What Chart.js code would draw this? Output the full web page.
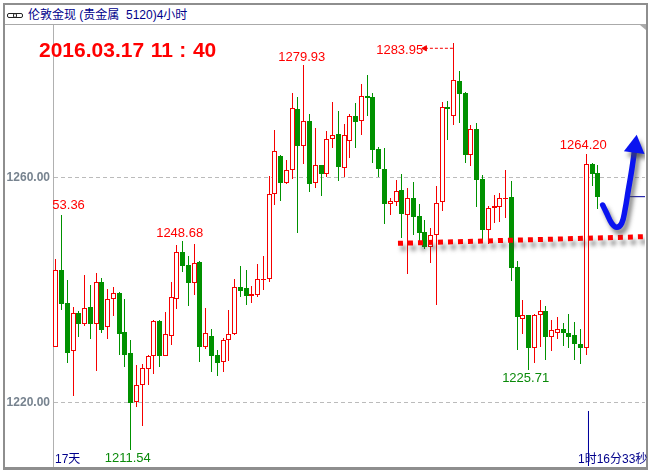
<!DOCTYPE html>
<html>
<head>
<meta charset="utf-8">
<title>伦敦金现 4小时</title>
<script src="https://cdn.jsdelivr.net/npm/chart.js@4/dist/chart.umd.min.js"></script>
<style>
  html, body { margin: 0; padding: 0; background: #fff; }
  #wrap { position: relative; width: 650px; height: 470px; overflow: hidden; font-family: "Liberation Sans", "Noto Sans CJK SC", sans-serif; }
  #frame { position: absolute; left: 3px; top: 3px; width: 641px; height: 462px; border: solid #8e8e8e; border-width: 2px 2px 3px 2px; }
  #rule { position: absolute; left: 5px; top: 24px; width: 641px; height: 1px; background: #aaa; }
  #corner { position: absolute; left: 640px; top: 25px; width: 0; height: 0; border-top: 5px solid #aaa; border-left: 6px solid transparent; }
  #chart { position: absolute; left: 0; top: 0; }
  .link { position: absolute; top: 13px; width: 8px; height: 3px; border: 1px solid #222; border-radius: 2px; }
  .txt { position: absolute; white-space: pre; color: #00008b; font-size: 12px; line-height: 14px; }
  #title { left: 28px; top: 8px; }
  #stamp { left: 39px; top: 38px; color: #f00; font-weight: bold; font-size: 21px; line-height: 24px; word-spacing: 0.7px; }
  #days { left: 55px; top: 452px; }
  #left { left: 578px; top: 452px; }
</style>
</head>
<body>
<div id="wrap">
  <div id="frame"></div>
  <div id="rule"></div>
  <div id="corner"></div>
  <div class="link" style="left:7px"></div>
  <div class="link" style="left:13px"></div>
  <div class="txt" id="title">伦敦金现 (贵金属  5120)4小时</div>
  <canvas id="chart" width="650" height="470"></canvas>
  <div class="txt" id="stamp">2016.03.17 11 : 40</div>
  <div class="txt" id="days">17天</div>
  <div class="txt" id="left">1时16分33秒</div>
</div>
<script>
// 4 hour candles
const opens = [1229.93,1243.56,1237.69,1229.1,1235.91,1234.01,1236.98,1234.01,1241.42,1233.36,1238.34,1239.47,1232.53,1228.8,1220.03,1223.05,1225.9,1228.21,1234.43,1228.33,1231.88,1238.34,1246.7,1244.44,1241.3,1244.98,1229.93,1231.82,1228.44,1227.14,1231.05,1232.12,1240.47,1240.3,
  1238.99,1239.17,1241.78,1241.89,1257.01,1263.76,1259.08,1261.27,1272.12,1265.66,1269.98,1258.96,1262.2,1260.68,1266.78,1267.67,1261.75,1266.43,1270.87,1269.98,1274.43,1274.25,1265.01,1261.45,1255.35,1255.7,1257.72,1253.39,1256.29,1253.09,1250.25,1247.7,1249.72,
  1255.59,1272.48,1270.99,1277.16,1275.02,1264.05,1268.62,1259.68,1250.72,1254.52,1254.81,1256.23,1256.53,1244.09,1234.9,1235.56,1229.74,1235.5,1236.21,1231.7,1232.3,1233.01,1232.36,1232,1230.4,1229.69,1262.35,1260.75];
const highs = [1245.45,1253.36,1241.78,1236.92,1236.27,1242.67,1240.89,1242.96,1242.07,1240.18,1240.47,1239.64,1238.4,1231.11,1226.67,1226.84,1228.44,1234.67,1234.61,1236.09,1241.42,1248,1248.68,1246.04,1248.18,1245.16,1236.8,1233.01,1229.33,1231.41,1236.44,1241.96,1244.27,1243.56,
  1240.71,1244.62,1246.04,1260.26,1268.44,1263.94,1263.11,1275.02,1274.25,1279.93,1271.29,1268.74,1262.3,1268.21,1273.42,1271.82,1269.51,1271.29,1273.18,1276.56,1278.22,1274.96,1265.36,1265.18,1256.29,1259.55,1260.56,1258.13,1259.14,1255.29,1252.44,1250.96,1258.55,
  1273.42,1273.6,1283.95,1278.93,1275.25,1269.33,1269.64,1260.44,1254.99,1256.89,1257.19,1261.33,1259.38,1245.16,1238.22,1235.56,1235.73,1238.22,1237.16,1234.67,1235.2,1234.13,1235.73,1234.31,1233.07,1264.2,1262.52,1262.22];
const lows = [1229.81,1236.44,1227.08,1221.21,1231.64,1233.66,1231.29,1225.6,1232.3,1231.29,1235.38,1228.44,1226.37,1211.54,1219.26,1215.82,1223.11,1225.07,1226.37,1228.27,1230.22,1236.62,1243.14,1237.16,1239.11,1227.26,1229.45,1225.42,1224.77,1225.42,1227.38,1232,1238.81,1237.33,
  1237.69,1238.81,1240,1241.48,1255.11,1255.82,1258.84,1259.73,1250.19,1262.4,1257.48,1258.19,1256.77,1260.15,1265.24,1259.43,1260.03,1263.52,1265.3,1267.55,1270.93,1262.52,1260.03,1251.79,1253.33,1254.99,1249.3,1242.9,1249.78,1248.29,1247.29,1244.86,1237.33,
  1254.04,1266.67,1269.33,1269.74,1262.63,1262.1,1254.81,1248.89,1248.12,1251.96,1252.14,1252.85,1241.65,1229.33,1232.18,1225.71,1227.08,1229.92,1227.56,1229.21,1231.29,1230.04,1229.69,1227.56,1226.84,1228.44,1258.49,1254.45];
const closes = [1243.5,1237.57,1228.86,1235.85,1234.01,1236.74,1234.01,1241.36,1232.95,1238.34,1239.41,1232.24,1228.5,1219.97,1223.05,1226.07,1228.27,1234.43,1228.33,1232.12,1238.7,1246.7,1244.33,1241.3,1244.74,1229.93,1232.3,1228.33,1227.08,1231.05,1232.12,1240.47,1239.88,1239,
  1239.23,1241.89,1242.01,1257.01,1264.65,1259.08,1261.27,1272.29,1265.66,1269.98,1258.9,1262.16,1260.68,1266.78,1267.49,1261.92,1267.49,1270.87,1269.92,1274.43,1274.13,1264.95,1261.57,1255.35,1255.76,1257.66,1253.57,1256.29,1253.03,1250.19,1247.7,1249.72,1255.41,
  1272.48,1272.23,1277.28,1274.9,1264.05,1268.57,1259.61,1250.67,1254.52,1254.88,1256.3,1256.41,1243.96,1235.25,1235.5,1229.74,1235.5,1236.21,1231.7,1232.84,1233.01,1232.41,1231.7,1230.4,1229.69,1262.35,1260.68,1256.59];

// high / low callouts
const labelTexts = ['53.36', '1248.68', '1211.54', '1279.93', '1283.95', '1264.20', '1225.71'];
const labelCandles = [1, 22, 13, 43, 69, 92, 82];
const labelColors = ['#f00', '#f00', '#0a8a0a', '#f00', '#f00', '#f00', '#0a8a0a'];
const labelDx = [7.5, -2.5, -2.5, -1.5, -53.5, -2.5, -2.5];
const labelDy = [-9, -8, 8, -8, 8, -8, 8];

// drawn-on annotations
const supportX = [59.43, 102.27];
const supportY = [1248.3, 1249.48];
const arrowX = [94.93, 95.63, 96.5, 97.37, 98.23, 98.8, 99.38, 99.97, 100.54];
const arrowY = [1255.11, 1253.64, 1251.86, 1251.15, 1251.86, 1254.22, 1257.78, 1261.33, 1265.48];
const peakX = [64.1, 69];
const peakY = [1282.97, 1282.97];
const lastX = [99.67, 102.27];
const timerX = [92.47, 92.47];
const timerY = [1218.49, 1208.71];

const RED = '#f50000';
const GREEN = '#009100';
const NAVY = '#00009c';

const pts = (xs, ys) => xs.map((x, i) => ({ x, y: ys[i] }));
const isUp = closes.map((c, i) => c >= opens[i]);

// snap candles to whole pixels, otherwise the 1px wicks go blurry
const snapBars = {
  id: 'snapBars',
  afterDatasetsUpdate(chart) {
    chart.data.datasets.forEach((ds, i) => {
      if (ds.type !== 'bar') return;
      chart.getDatasetMeta(i).data.forEach(el => {
        el.x = Math.round(el.x) + 0.5;
        el.y = Math.round(el.y);
        el.base = Math.round(el.base);
      });
    });
  }
};

const shadows = {
  id: 'shadows',
  beforeDatasetDraw(chart, args) {
    if (!args.meta._dataset.shadow) return;
    const ctx = chart.ctx;
    ctx.save();
    ctx.shadowColor = 'rgba(70,70,70,0.65)';
    ctx.shadowBlur = 4;
    ctx.shadowOffsetX = 3;
    ctx.shadowOffsetY = 5;
  },
  afterDatasetDraw(chart, args) {
    if (args.meta._dataset.shadow) chart.ctx.restore();
  }
};

const callouts = {
  id: 'callouts',
  afterDatasetsDraw(chart) {
    const { ctx, scales } = chart;
    ctx.save();
    ctx.font = '13px "Liberation Sans"';
    ctx.textAlign = 'center';
    ctx.textBaseline = 'middle';
    labelTexts.forEach((text, i) => {
      const c = labelCandles[i];
      const price = labelColors[i] === '#f00' ? highs[c] : lows[c];
      ctx.fillStyle = labelColors[i];
      ctx.fillText(text, scales.x.getPixelForValue(c) + labelDx[i], scales.y.getPixelForValue(price) + labelDy[i]);
    });
    ctx.restore();
  }
};

new Chart(document.getElementById('chart'), {
  type: 'bar',
  plugins: [snapBars, shadows, callouts],
  data: {
    datasets: [
      {
        type: 'line',
        data: pts(supportX, supportY),
        borderColor: '#f00',
        borderWidth: 5,
        borderDash: [5, 5],
        pointRadius: 0,
        shadow: true,
        order: 1
      },
      {
        type: 'line',
        data: pts(arrowX, arrowY),
        borderColor: '#0a14f0',
        backgroundColor: '#0a14f0',
        borderWidth: 5.5,
        tension: 0.4,
        borderCapStyle: 'round',
        pointRadius: arrowX.map((_, i) => i === arrowX.length - 1 ? 12 : 0),
        pointStyle: 'triangle',
        pointRotation: 8,
        pointBorderWidth: 0,
        shadow: true,
        order: 0
      },
      {
        type: 'line',
        data: pts(peakX, peakY),
        borderColor: RED,
        backgroundColor: RED,
        borderWidth: 1,
        borderDash: [3, 2],
        pointRadius: [3, 0],
        pointStyle: 'triangle',
        pointRotation: -90,
        order: 2
      },
      {
        type: 'line',
        data: pts(lastX, [closes[closes.length - 1], closes[closes.length - 1]]),
        borderColor: NAVY,
        borderWidth: 1,
        pointRadius: 0,
        order: 2
      },
      {
        type: 'line',
        data: pts(timerX, timerY),
        borderColor: NAVY,
        borderWidth: 1,
        pointRadius: 0,
        order: 2
      },
      // bodies on top of the wicks, up candles are hollow
      {
        type: 'bar',
        data: opens.map((o, i) => ({ x: i, y: [o, closes[i]] })),
        backgroundColor: isUp.map(u => u ? '#fff' : GREEN),
        borderColor: isUp.map(u => u ? RED : GREEN),
        borderWidth: 1,
        borderSkipped: false,
        inflateAmount: 0,
        barThickness: 5,
        grouped: false,
        order: 3
      },
      {
        type: 'bar',
        data: lows.map((l, i) => ({ x: i, y: [l, highs[i]] })),
        backgroundColor: isUp.map(u => u ? RED : GREEN),
        borderWidth: 0,
        inflateAmount: 0,
        barThickness: 1,
        grouped: false,
        order: 4
      }
    ]
  },
  options: {
    responsive: false,
    animation: false,
    events: [],
    layout: { autoPadding: false, padding: { top: 25, right: 5, bottom: 4, left: 0 } },
    scales: {
      x: { type: 'linear', display: false, offset: false, min: -0.4, max: 102.27 },
      y: {
        min: 1208.71,
        max: 1287.11,
        grid: { color: '#bbb', drawTicks: false },
        border: { display: true, color: '#b0b0b0', dash: [4, 3] },
        ticks: {
          color: '#77838f',
          padding: 3,
          font: { family: '"Liberation Sans"', size: 12, weight: 'bold' },
          callback: v => v.toFixed(2)
        },
        afterBuildTicks: s => { s.ticks = [{ value: 1220 }, { value: 1260 }]; },
        afterFit: s => { s.width = 53; s.paddingTop = 0; s.paddingBottom = 0; }
      }
    },
    plugins: { legend: { display: false }, tooltip: { enabled: false } }
  }
});
</script>
</body>
</html>
